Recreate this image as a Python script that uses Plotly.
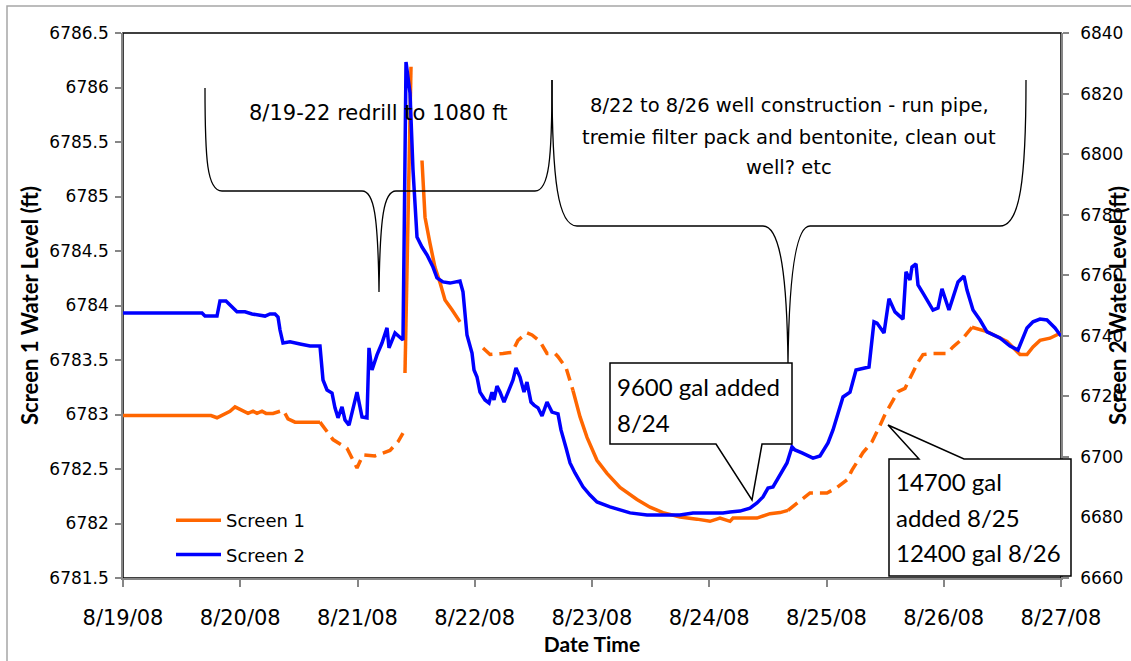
import pandas as pd
import plotly.graph_objects as go

START = pd.Timestamp("2008-08-19 00:00")

# ---------------- data (hours since 8/19/08 00:00, water level in ft) ----------------
screen2_hours = [
    0, 16.17, 16.78, 19.24, 19.85, 21.08, 23.33, 24.97, 26.41, 28.04,
    29.07, 30.09, 31.11, 31.73, 32.14, 32.75, 34.18, 36.23, 38.28, 40.32,
    40.94, 41.76, 42.78, 43.39, 44.01, 44.83, 45.44, 46.26, 47.90, 48.92,
    49.94, 50.35, 50.97, 51.99, 53.01, 54.04, 54.45, 55.68, 56.49, 57.31,
    57.52, 57.93, 58.75, 59.36, 60.18, 61.20, 62.23, 63.45, 64.27, 65.50,
    66.93, 68.98, 69.59, 70.41, 71.44, 71.85, 72.46, 73.07, 74.10, 74.92,
    75.53, 75.94, 76.55, 77.17, 77.99, 79.83, 80.44, 81.26, 82.08, 82.69,
    83.51, 84.13, 84.95, 85.77, 86.79, 87.81, 89.04, 89.65, 90.68, 91.50,
    92.52, 94.16, 95.59, 97.02, 99.68, 101.73, 103.78, 107.26, 114.01, 116.67,
    122.81, 124.25, 126.29, 128.34, 129.77, 131.00, 132.03, 133.05, 134.07, 135.91,
    136.94, 137.55, 138.98, 141.24, 142.67, 144.31, 145.33, 146.76, 147.38, 148.81,
    150.04, 152.70, 153.31, 153.72, 154.34, 155.77, 156.79, 158.02, 159.66, 160.27,
    161.09, 161.50, 162.32, 162.73, 163.75, 165.80, 166.82, 167.64, 169.07, 170.92,
    172.14, 172.76, 173.99, 175.42, 176.85, 179.51, 181.56, 183.20, 185.04, 186.27,
    187.70, 189.13, 190.77, 192.00,
]
screen2_level = [
    6747.5, 6747.5, 6746.5, 6746.5, 6751.5, 6751.5, 6747.9, 6747.9, 6747.2, 6746.9,
    6746.5, 6747.2, 6747.2, 6746.2, 6741.9, 6737.6, 6738.0, 6737.3, 6736.6, 6736.6,
    6725.4, 6722.1, 6721.1, 6716.2, 6712.9, 6716.5, 6712.2, 6710.5, 6721.4, 6713.2,
    6712.9, 6736.0, 6728.7, 6733.7, 6737.6, 6742.6, 6736.0, 6740.9, 6739.6, 6738.6,
    6768.3, 6830.4, 6820.2, 6794.8, 6772.6, 6769.3, 6766.7, 6762.7, 6759.1, 6757.8,
    6757.4, 6758.1, 6754.5, 6740.3, 6734.3, 6728.7, 6726.4, 6721.4, 6718.8, 6717.8,
    6721.4, 6718.8, 6723.4, 6721.4, 6718.1, 6725.4, 6729.4, 6726.4, 6721.4, 6724.7,
    6718.1, 6717.1, 6716.2, 6713.5, 6718.1, 6714.8, 6714.2, 6708.9, 6703.0, 6698.0,
    6694.7, 6690.1, 6687.4, 6685.1, 6683.5, 6682.5, 6681.5, 6680.8, 6680.8, 6681.5,
    6681.5, 6681.8, 6682.1, 6683.1, 6684.8, 6686.8, 6689.7, 6690.1, 6693.0, 6698.0,
    6703.3, 6702.3, 6701.3, 6699.6, 6700.3, 6704.6, 6708.9, 6716.5, 6719.8, 6721.4,
    6728.7, 6729.7, 6737.6, 6744.6, 6744.2, 6740.9, 6752.2, 6747.9, 6745.5, 6761.1,
    6758.4, 6762.7, 6763.7, 6756.8, 6754.1, 6748.5, 6749.2, 6755.5, 6748.5, 6757.8,
    6759.7, 6755.1, 6748.5, 6745.2, 6741.3, 6739.3, 6736.6, 6735.3, 6742.6, 6744.6,
    6745.5, 6745.2, 6742.6, 6739.9,
]

# Screen 1: measured (solid) segments, None = gap
screen1_solid_hours = [
    0, 18.01, 19.24, 20.88, 21.90, 22.93, 23.95, 25.59, 26.61, 27.43, 28.45, 29.27, 30.70, 32.14, None,
    33.16, 33.77, 35.21, 40.32, None,
    57.72, 58.95, None,
    61.20, 61.82, 62.84, 63.86, 64.89, 65.91, 67.34, 68.98, None,
    92.11, 93.54, 94.98, 97.02, 99.07, 101.73, 105.21, 107.87, 110.53, 114.01,
    117.49, 120.15, 122.20, 124.25, 124.86, 129.77, 132.43, 134.48, 136.12, None,
    173.78, 176.85, 180.95, 183.61, 185.04, 186.27, 187.70, 189.75, 192.00,
]
screen1_solid_level = [
    6782.99, 6782.99, 6782.97, 6783.01, 6783.03, 6783.07, 6783.05, 6783.01, 6783.03, 6783.01, 6783.03, 6783.01, 6783.01, 6783.03, None,
    6783.01, 6782.96, 6782.93, 6782.93, None,
    6783.38, 6786.19, None,
    6785.33, 6784.81, 6784.57, 6784.35, 6784.21, 6784.05, 6783.96, 6783.85, None,
    6783.22, 6782.98, 6782.79, 6782.58, 6782.46, 6782.33, 6782.22, 6782.15, 6782.10, 6782.06,
    6782.04, 6782.02, 6782.05, 6782.02, 6782.05, 6782.05, 6782.09, 6782.10, 6782.12, None,
    6783.80, 6783.76, 6783.67, 6783.55, 6783.55, 6783.62, 6783.68, 6783.70, 6783.75,
]
# Screen 1: dashed segments
screen1_dashed_hours = [
    40.32, 42.98, 45.85, 47.90, 49.13, 51.58, 54.65, 56.29, 57.31, None,
    73.69, 75.12, 77.78, 79.62, 80.85, 82.69, 83.72, 85.36, 86.79, 88.43, 89.04, 90.68, 92.11, None,
    136.12, 140.62, 144.10, 146.15, 148.20, 149.22, 151.47, 153.31, 154.95, 155.97,
    157.61, 158.63, 160.07, 162.73, 163.75, 165.80, 168.66, 169.89, 171.94, 173.78,
]
screen1_dashed_level = [
    6782.93, 6782.77, 6782.69, 6782.51, 6782.63, 6782.62, 6782.67, 6782.75, 6782.83, None,
    6783.61, 6783.55, 6783.56, 6783.57, 6783.68, 6783.75, 6783.73, 6783.67, 6783.56, 6783.56, 6783.53, 6783.43, 6783.22, None,
    6782.12, 6782.28, 6782.28, 6782.33, 6782.40, 6782.49, 6782.65, 6782.75, 6782.90, 6783.00,
    6783.13, 6783.21, 6783.24, 6783.48, 6783.55, 6783.56, 6783.56, 6783.62, 6783.70, 6783.80,
]

x_range = ["2008-08-19", "2008-08-27"]
y1_range = [6781.5, 6786.5]
y2_range = [6660, 6840]

brace1_text = "8/19-22 redrill to 1080 ft"
brace2_lines = ["8/22 to 8/26 well construction - run pipe,",
                "tremie filter pack and bentonite, clean out",
                "well? etc"]
callout1_lines = ["9600 gal added", "8/24"]
callout2_lines = ["14700 gal", "added 8/25", "12400 gal 8/26"]


def to_time(hours):
    return [None if h is None else START + pd.Timedelta(hours=h) for h in hours]


ORANGE = "#FF6600"
BLUE = "#0000FF"
FONT = "DejaVu Sans"

# ---------------- figure geometry helpers (pixel -> paper) ----------------
W, H = 1131, 661
PL, PR, PT, PB = 123, 1061, 33, 578


def fx(x):
    return (x - PL) / (PR - PL)


def fy(y):
    return (PB - y) / (PB - PT)


def path(segs):
    out = []
    for cmd, *pts in segs:
        out.append(cmd + " " + " ".join(f"{fx(x):.5f},{fy(y):.5f}" for x, y in pts))
    return " ".join(out)


fig = go.Figure()
fig.add_trace(go.Scatter(
    x=to_time(screen1_solid_hours), y=screen1_solid_level, mode="lines",
    name="Screen 1", line=dict(color=ORANGE, width=3.5), legendgroup="s1",
    yaxis="y", connectgaps=False))
fig.add_trace(go.Scatter(
    x=to_time(screen1_dashed_hours), y=screen1_dashed_level, mode="lines",
    name="Screen 1", line=dict(color=ORANGE, width=3.5, dash="12px,7px"),
    legendgroup="s1", showlegend=False, yaxis="y", connectgaps=False))
fig.add_trace(go.Scatter(
    x=to_time(screen2_hours), y=screen2_level, mode="lines",
    name="Screen 2", line=dict(color=BLUE, width=3.5), legendgroup="s2",
    yaxis="y2"))

shapes = [
    # outer chart frame
    dict(type="rect", xref="paper", yref="paper", x0=fx(7), x1=fx(1145), y0=fy(6), y1=fy(680),
         line=dict(color="#A6A6A6", width=1.5), layer="below"),
    # plot-area border
    dict(type="rect", xref="paper", yref="paper", x0=0, x1=1, y0=0, y1=1,
         line=dict(color="black", width=1.5), layer="below"),
    # brace 1
    dict(type="path", xref="paper", yref="paper", layer="above",
         line=dict(color="black", width=1.3),
         path=path([("M", (205, 88)), ("C", (205, 160), (207, 191), (222, 191)),
                    ("L", (362, 191)), ("C", (374, 191), (378, 215), (379, 292)),
                    ("C", (380, 215), (384, 191), (396, 191)),
                    ("L", (535, 191)), ("C", (549, 191), (552, 160), (552, 80))])),
    # brace 2
    dict(type="path", xref="paper", yref="paper", layer="above",
         line=dict(color="black", width=1.3),
         path=path([("M", (552, 80)), ("C", (552, 180), (558, 226), (577, 226)),
                    ("L", (763, 226)), ("C", (781, 226), (787, 280), (788, 363)),
                    ("C", (789, 280), (795, 226), (810, 226)),
                    ("L", (1000, 226)), ("C", (1020, 226), (1026, 180), (1026, 80))])),
    # callout 1
    dict(type="path", xref="paper", yref="paper", layer="above",
         line=dict(color="black", width=1.5), fillcolor="white",
         path=path([("M", (610, 363)), ("L", (792, 363)), ("L", (792, 444)), ("L", (762, 444)),
                    ("L", (752, 500)), ("L", (716, 444)), ("L", (610, 444))]) + " Z"),
    # callout 2
    dict(type="path", xref="paper", yref="paper", layer="above",
         line=dict(color="black", width=1.5), fillcolor="white",
         path=path([("M", (889, 459)), ("L", (919, 459)), ("L", (888, 425)), ("L", (964, 459)),
                    ("L", (1071, 459)), ("L", (1071, 576)), ("L", (889, 576))]) + " Z"),
]

annotations = []


def ann(text, x, y, size, family, xanchor="center", color="black"):
    annotations.append(dict(text=text, x=fx(x), y=fy(y), xref="paper", yref="paper",
                            xanchor=xanchor, yanchor="middle", showarrow=False,
                            font=dict(family=family, size=size, color=color)))


ann(brace1_text, 378, 113, 21, FONT)
for line, yy in zip(brace2_lines, [106, 137, 167]):
    ann(line, 789, yy, 19.5, FONT)
for line, yy in zip(callout1_lines, [386, 422]):
    ann(line, 615, yy, 24, "Lato", xanchor="left")
for line, yy in zip(callout2_lines, [481, 517, 552]):
    ann(line, 894, yy, 24, "Lato", xanchor="left")

fig.update_layout(
    width=W, height=H,
    margin=dict(l=PL, r=W - PR, t=PT, b=H - PB, autoexpand=False),
    paper_bgcolor="white", plot_bgcolor="white",
    showlegend=True,
    legend=dict(x=fx(171), y=fy(502), xanchor="left", yanchor="top",
                bgcolor="rgba(0,0,0,0)", font=dict(family=FONT, size=18, color="black"),
                tracegroupgap=8, itemwidth=45),
    xaxis=dict(type="date", range=x_range, dtick=86400000, tick0="2008-08-19",
               tickformat="%-m/%d/%y", showgrid=False, zeroline=False,
               showline=True, linecolor="#868686", linewidth=1.5,
               ticks="outside", ticklen=7, tickcolor="#868686", tickwidth=1.5,
               ticklabelstandoff=13,
               tickfont=dict(family=FONT, size=21, color="black"),
               title=dict(text="<b>Date Time</b>", font=dict(family="Lato", size=21, color="black"),
                          standoff=8)),
    yaxis=dict(range=y1_range, dtick=0.5, tickformat="~g", showgrid=False, zeroline=False,
               showline=True, linecolor="#868686", linewidth=1.5,
               ticks="outside", ticklen=6, tickcolor="#868686", tickwidth=1.5,
               ticklabelstandoff=3,
               tickfont=dict(family=FONT, size=17, color="black"),
               title=dict(text="<b>Screen 1 Water Level (ft)</b>",
                          font=dict(family="Lato", size=22, color="black"), standoff=5)),
    yaxis2=dict(range=y2_range, dtick=20, tickformat="~g", overlaying="y", side="right",
                showgrid=False, zeroline=False, showline=True, linecolor="#868686", linewidth=1.5,
                ticks="outside", ticklen=6, tickcolor="#868686", tickwidth=1.5,
                ticklabelstandoff=8,
                tickfont=dict(family=FONT, size=17, color="black"),
                title=dict(text="<b>Screen 2 Water Level (ft)</b>",
                           font=dict(family="Lato", size=22, color="black"), standoff=0)),
    shapes=shapes,
    annotations=annotations,
)

fig.write_html("out.html", config={"displayModeBar": False},
               post_script="document.body.style.margin='0';")
